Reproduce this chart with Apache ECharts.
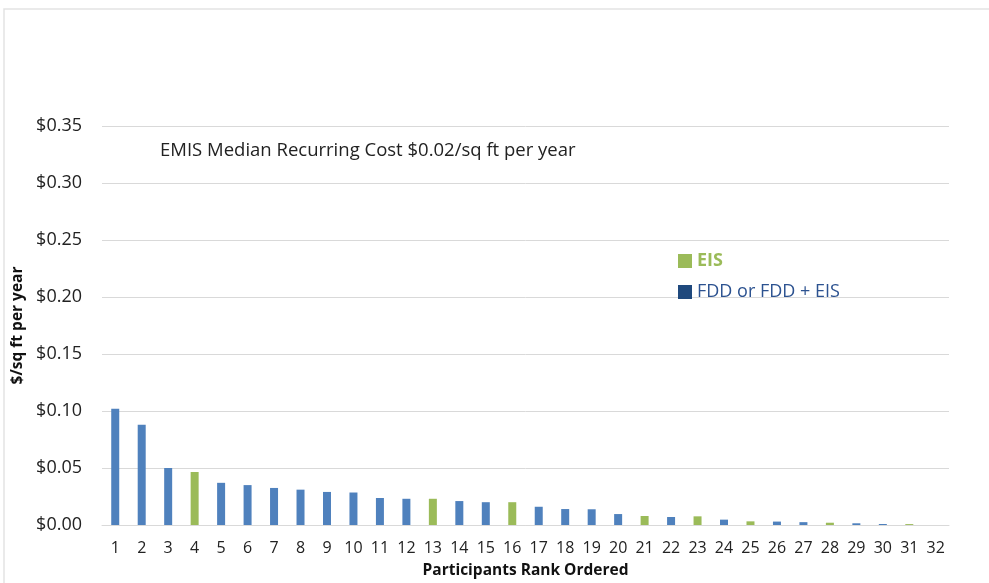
<!DOCTYPE html>
<html>
<head>
<meta charset="utf-8">
<script src="https://cdn.jsdelivr.net/npm/echarts@6/dist/echarts.min.js"></script>
<style>
  html, body { margin: 0; padding: 0; background: #fff; }
  #chart { width: 989px; height: 583px; }
</style>
</head>
<body>
<div id="chart"></div>
<script>
// participant ranks 1..32
var ranks = [];
for (var i = 1; i <= 32; i++) ranks.push(String(i));

// recurring cost per participant, $/sq ft per year
var costs = [0.102, 0.088, 0.050, 0.0465, 0.037, 0.035, 0.0325, 0.031, 0.029, 0.0285,
  0.0237, 0.023, 0.023, 0.021, 0.020, 0.020, 0.016, 0.014, 0.0138, 0.0096,
  0.0079, 0.007, 0.0076, 0.0047, 0.0032, 0.003, 0.0025, 0.002, 0.0015, 0.0009,
  0.0008, 0];

// which participants are EIS only (rank numbers)
var eisRanks = [4, 13, 16, 21, 23, 25, 28, 31];

var eisData = [], fddData = [];
for (var k = 0; k < costs.length; k++) {
  var isEis = eisRanks.indexOf(k + 1) >= 0;
  eisData.push(isEis ? costs[k] : null);
  fddData.push(isEis ? null : costs[k]);
}

var chart = echarts.init(document.getElementById('chart'));

var option = {
  backgroundColor: '#fff',
  animation: false,
  textStyle: { fontFamily: 'Open Sans' },
  graphic: [
    {
      type: 'polyline',
      shape: { points: [[4, 583], [4, 9], [989, 9]] },
      style: { stroke: '#e3e3e3', lineWidth: 1.5, fill: null }
    },
    {
      type: 'text',
      left: 160,
      top: 141,
      style: {
        text: 'EMIS Median Recurring Cost $0.02/sq ft per year',
        font: '18.5px "Open Sans"',
        fill: '#222'
      }
    }
  ],
  legend: {
    orient: 'vertical',
    left: 673,
    top: 247,
    itemWidth: 14,
    itemHeight: 14,
    itemGap: 13,
    icon: 'rect',
    textStyle: { fontSize: 18 },
    data: [
      { name: 'EIS', itemStyle: { color: '#9BBB59' }, textStyle: { color: '#9BBB59', fontWeight: 'bold', fontSize: 18 } },
      { name: 'FDD or FDD + EIS', itemStyle: { color: '#1F497D' }, textStyle: { color: '#2C5290', fontSize: 18 } }
    ]
  },
  grid: {
    left: 102,
    right: 40,
    top: 126,
    bottom: 58,
    outerBoundsMode: 'none'
  },
  xAxis: {
    type: 'category',
    data: ranks,
    name: 'Participants Rank Ordered',
    nameLocation: 'middle',
    nameGap: 38,
    nameTextStyle: { fontSize: 15.5, fontWeight: 'bold', color: '#111' },
    axisLine: { lineStyle: { color: '#d9d9d9' } },
    axisTick: { show: false },
    axisLabel: { fontSize: 16, color: '#222', margin: 15, interval: 0 }
  },
  yAxis: {
    type: 'value',
    min: 0,
    max: 0.35,
    interval: 0.05,
    name: '$/sq ft per year',
    nameLocation: 'middle',
    nameGap: 72,
    nameTextStyle: { fontSize: 15.5, fontWeight: 'bold', color: '#111' },
    axisLine: { show: false },
    axisTick: { show: false },
    splitLine: { lineStyle: { color: '#d9d9d9' } },
    axisLabel: {
      fontSize: 18,
      color: '#222',
      margin: 20,
      formatter: function (v) { return '$' + v.toFixed(2); }
    }
  },
  series: [
    {
      name: 'EIS',
      type: 'bar',
      stack: 'cost',
      barWidth: 8,
      itemStyle: { color: '#9BBB59' },
      data: eisData
    },
    {
      name: 'FDD or FDD + EIS',
      type: 'bar',
      stack: 'cost',
      barWidth: 8,
      itemStyle: { color: '#4F81BD' },
      data: fddData
    }
  ]
};

chart.setOption(option);
</script>
</body>
</html>
